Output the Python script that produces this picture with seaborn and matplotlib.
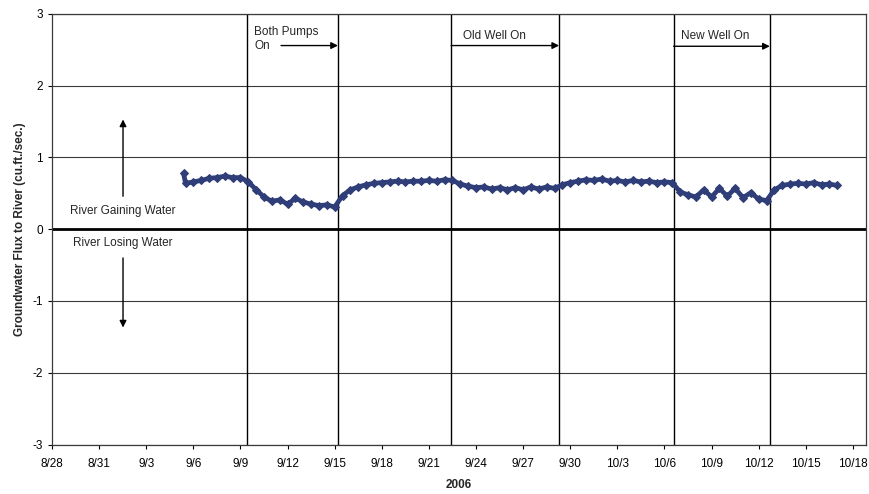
import matplotlib
matplotlib.use("Agg")
import matplotlib.pyplot as plt
import seaborn as sns
import numpy as np
import pandas as pd

# Groundwater flux readings, every 12 hours (first reading a little earlier)
first_time = "2006-09-05 09:00"
first_value = 0.78
start_time = "2006-09-05 12:00"
flux = [
    0.64, 0.66, 0.68, 0.71, 0.72, 0.74, 0.72, 0.72,   # 9/5 12h - 9/9 00h
    0.66, 0.55, 0.45, 0.39, 0.41, 0.35, 0.43, 0.38,   # 9/9 12h - 9/13 00h
    0.35, 0.33, 0.34, 0.31, 0.47, 0.55, 0.59, 0.62,   # 9/13 12h - 9/17 00h
    0.64, 0.65, 0.66, 0.67, 0.66, 0.67, 0.67, 0.68,   # 9/17 12h - 9/21 00h
    0.67, 0.69, 0.68, 0.63, 0.60, 0.58, 0.59, 0.56,   # 9/21 12h - 9/25 00h
    0.58, 0.55, 0.58, 0.55, 0.59, 0.56, 0.59, 0.57,   # 9/25 12h - 9/29 00h
    0.62, 0.65, 0.67, 0.69, 0.68, 0.70, 0.67, 0.68,   # 9/29 12h - 10/3 00h
    0.66, 0.68, 0.66, 0.67, 0.65, 0.66, 0.65, 0.52,   # 10/3 12h - 10/7 00h
    0.48, 0.45, 0.55, 0.45, 0.57, 0.46, 0.57, 0.44,   # 10/7 12h - 10/11 00h
    0.51, 0.42, 0.40, 0.55, 0.61, 0.63, 0.64, 0.63,   # 10/11 12h - 10/15 00h
    0.65, 0.62, 0.63, 0.61,                           # 10/15 12h - 10/17 00h
]

# pumping events (vertical lines)
event_times = ["2006-09-09 10:00", "2006-09-15 05:00", "2006-09-22 10:00",
               "2006-09-29 07:00", "2006-10-06 14:00", "2006-10-12 17:00"]

times = [pd.Timestamp(first_time)] + list(pd.date_range(start_time, periods=len(flux), freq="12h"))
values = [first_value] + flux
df = pd.DataFrame({"time": times, "flux": values})

sns.set_style("white")
plt.rcParams["font.family"] = ["Liberation Sans", "DejaVu Sans"]

fig = plt.figure(figsize=(8.7, 4.94), dpi=100)
ax = fig.add_axes([0.0598, 0.1002, 0.9356, 0.8715])

# grid
for yv in [-3, -2, -1, 1, 2, 3]:
    ax.axhline(yv, color="#3a3a3a", lw=0.8, zorder=1)
ax.axhline(0, color="black", lw=2.0, zorder=2)
for t in event_times:
    ax.axvline(pd.Timestamp(t), color="black", lw=1.0, zorder=2)

line_color = "#2f3d78"
sns.lineplot(data=df, x="time", y="flux", ax=ax, color=line_color, lw=3.4,
             marker="D", markersize=3.8, markeredgecolor=line_color, zorder=5)

ax.set_xlim(pd.Timestamp("2006-08-28"), pd.Timestamp("2006-10-18 20:00"))
ax.set_ylim(-3, 3)
ax.set_yticks([-3, -2, -1, 0, 1, 2, 3])
ax.set_yticklabels(["-3", "-2", "-1", "0", "1", "2", "3"])
ticks = pd.date_range("2006-08-28", "2006-10-18", freq="3D")
ax.set_xticks(ticks)
ax.set_xticklabels([f"{t.month}/{t.day}" for t in ticks])
ax.tick_params(axis="both", labelsize=8.5, direction="out", length=3, width=0.8,
               colors="black", left=True, bottom=True)
ax.tick_params(axis="x", pad=7)
for s in ax.spines.values():
    s.set_color("#3a3a3a")
    s.set_linewidth(0.9)

ax.set_xlabel("2006", fontsize=8.5, fontweight="bold", labelpad=6)
ax.set_ylabel("Groundwater Flux to River (cu.ft./sec.)", fontsize=8.5,
              fontweight="bold", labelpad=5)

arrow = dict(arrowstyle="-|>", color="black", lw=1.0, mutation_scale=10,
             shrinkA=0, shrinkB=0)
fs = 8.5
# pumping annotations
ax.text(pd.Timestamp("2006-09-09 21:00"), 2.75, "Both Pumps", fontsize=fs, va="center")
ax.text(pd.Timestamp("2006-09-09 21:00"), 2.56, "On", fontsize=fs, va="center")
ax.annotate("", xy=(pd.Timestamp("2006-09-15 05:00"), 2.56),
            xytext=(pd.Timestamp("2006-09-11 14:00"), 2.56), arrowprops=arrow)
ax.text(pd.Timestamp("2006-09-23 04:00"), 2.70, "Old Well On", fontsize=fs, va="center")
ax.annotate("", xy=(pd.Timestamp("2006-09-29 07:00"), 2.56),
            xytext=(pd.Timestamp("2006-09-22 10:00"), 2.56), arrowprops=arrow)
ax.text(pd.Timestamp("2006-10-07 01:00"), 2.70, "New Well On", fontsize=fs, va="center")
ax.annotate("", xy=(pd.Timestamp("2006-10-12 17:00"), 2.55),
            xytext=(pd.Timestamp("2006-10-06 14:00"), 2.55), arrowprops=arrow)

# gaining / losing
xa = pd.Timestamp("2006-09-01 12:30")
ax.annotate("", xy=(xa, 1.53), xytext=(xa, 0.46), arrowprops=arrow)
ax.text(xa, 0.26, "River Gaining Water", fontsize=fs, ha="center", va="center")
ax.text(xa, -0.19, "River Losing Water", fontsize=fs, ha="center", va="center")
ax.annotate("", xy=(xa, -1.37), xytext=(xa, -0.40), arrowprops=arrow)

fig.savefig("out.png", dpi=100)
